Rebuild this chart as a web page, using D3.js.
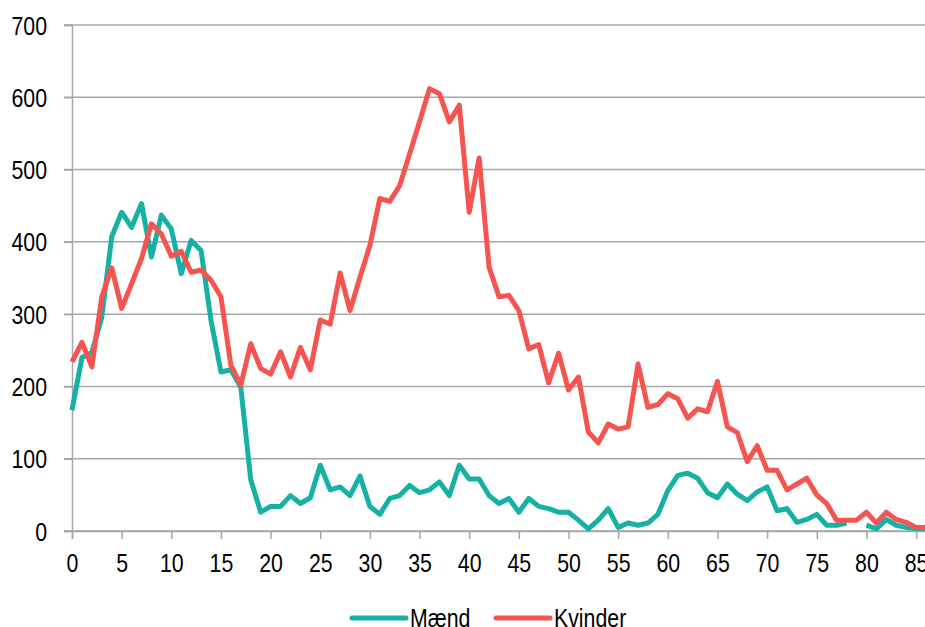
<!DOCTYPE html>
<meta charset="utf-8">
<script src="https://d3js.org/d3.v7.min.js"></script>
<style>
  body { margin: 0; background: #fff; }
  text { font-family: "Liberation Sans", Arial, sans-serif; fill: #000; }
</style>
<div id="chart"></div>
<script>
// alder 0..86
var ages = d3.range(0, 87);
var maend = [167,240,247,296,407,441,420,453,379,437,
  418,356,402,388,291,220,223,199,71,26,
  34,34,49,38,46,91,57,61,49,76,
  34,23,45,49,63,53,57,68,49,91,
  72,72,49,38,45,26,45,34,31,26,
  26,15,3,15,31,5,11,8,11,23,
  56,77,80,73,53,46,65,51,42,54,
  61,28,31,12,16,23,8,8,11,null,
  8,3,16,8,5,3,3];
var kvinder = [234,261,227,324,364,308,342,377,425,411,
  380,387,358,361,347,324,229,202,259,225,
  217,248,213,254,223,292,286,357,305,351,
  395,460,456,478,522,566,612,605,566,589,
  441,516,365,324,326,305,252,258,205,246,
  195,213,137,122,148,141,144,231,171,175,
  190,183,156,169,165,207,144,136,96,118,
  84,84,57,65,73,50,38,15,15,15,
  26,11,26,16,12,5,5];
var yTicks = [0,100,200,300,400,500,600,700];
var xTicks = d3.range(0, 86, 5);
var series = [
  {name: "Mænd", values: maend, color: "#17b0a5"},
  {name: "Kvinder", values: kvinder, color: "#f65450"}
];

var W = 925, H = 627;
var squeeze = "scale(0.82,1)";  // narrow text like the original
var svg = d3.select("#chart").append("svg")
  .attr("width", W).attr("height", H);

var x = d3.scaleLinear().domain([0, 86]).range([72, 926]);
var y = d3.scaleLinear().domain([0, 700]).range([531, 25]);

// gridlines
svg.append("g")
  .selectAll("line").data(yTicks).enter().append("line")
  .attr("x1", 64).attr("x2", W)
  .attr("y1", function(d) { return y(d); })
  .attr("y2", function(d) { return y(d); })
  .attr("stroke", "#a6a6a6").attr("stroke-width", 1.5);

// y axis
var yAxis = svg.append("g")
  .attr("transform", "translate(72,0)")
  .call(d3.axisLeft(y).tickValues(yTicks).tickSize(8));
yAxis.select(".domain").attr("stroke", "#a6a6a6").attr("stroke-width", 1.5);
yAxis.selectAll(".tick line").attr("stroke", "#a6a6a6").attr("stroke-width", 1.5);
yAxis.selectAll("text")
  .attr("x", 0).attr("dy", "0.35em")
  .attr("transform", "translate(-25,0) " + squeeze)
  .style("font-size", "26px").style("fill", "#000");

// x axis
var xAxis = svg.append("g")
  .attr("transform", "translate(0,531)")
  .call(d3.axisBottom(x).tickValues(xTicks).tickSize(8));
xAxis.select(".domain").attr("stroke", "#a6a6a6").attr("stroke-width", 1.5);
xAxis.selectAll(".tick line").attr("stroke", "#a6a6a6").attr("stroke-width", 1.5);
xAxis.selectAll("text")
  .attr("y", 0).attr("dy", 0)
  .attr("transform", "translate(0,41) " + squeeze)
  .style("font-size", "26px").style("fill", "#000");

var line = d3.line()
  .defined(function(d) { return d != null; })
  .x(function(d, i) { return x(ages[i]); })
  .y(function(d) { return y(d); });

series.forEach(function(s) {
  svg.append("path")
    .datum(s.values)
    .attr("d", line)
    .attr("fill", "none")
    .attr("stroke", s.color)
    .attr("stroke-width", 5)
    .attr("stroke-linejoin", "round");
});

// legend
var legend = svg.append("g");
var lx = [352, 496];
series.forEach(function(s, i) {
  legend.append("line")
    .attr("x1", lx[i]).attr("x2", lx[i] + 54)
    .attr("y1", 618).attr("y2", 618)
    .attr("stroke", s.color).attr("stroke-width", 5)
    .attr("stroke-linecap", "round");
  legend.append("text")
    .attr("transform", "translate(" + (lx[i] + 58) + ",627) " + squeeze)
    .style("font-size", "26px")
    .text(s.name);
});
</script>
